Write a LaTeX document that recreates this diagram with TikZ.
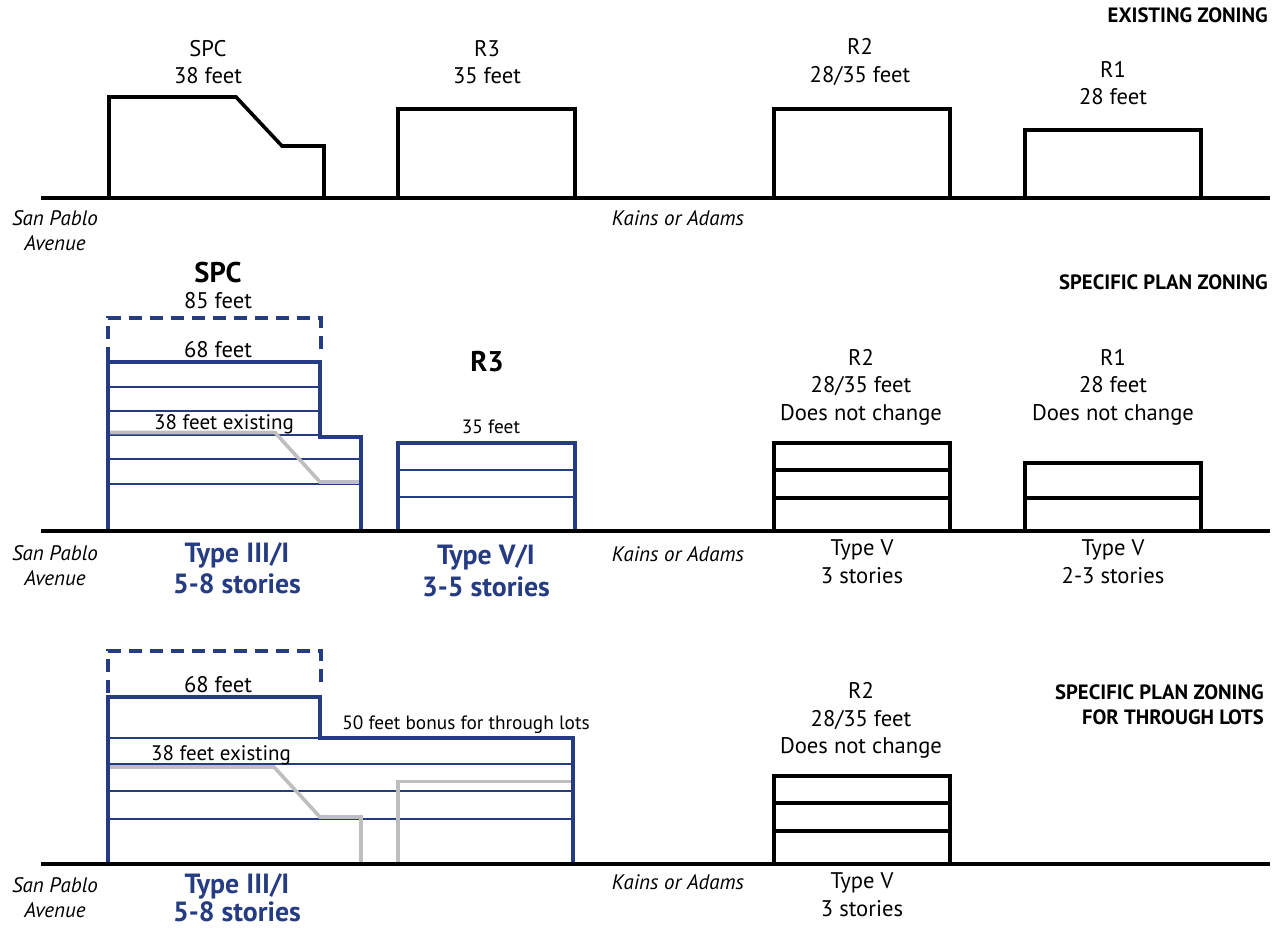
\documentclass[tikz,border=0pt]{standalone}
\usepackage{fontspec}
\setmainfont{PT Sans}
\usepackage{xcolor}
\definecolor{planblue}{RGB}{38,60,130}
\definecolor{oldgray}{RGB}{190,190,190}
\begin{document}
\begin{tikzpicture}[
        x=1pt, y=-1pt,
        ground/.style={line width=4pt, black},
        bldg/.style={line width=3.6pt, black},
        planbldg/.style={line width=4pt, planblue},
        floorline/.style={line width=1.6pt, planblue},
        oldbldg/.style={line width=3.6pt, oldgray},
        limit/.style={line width=3.6pt, planblue, dash pattern=on 13pt off 8pt},
        lbl/.style={inner sep=0pt, align=center, font=\fontsize{22.6}{27.6}\selectfont},
        lblsmall/.style={inner sep=0pt, align=center, font=\fontsize{19.3}{25}\selectfont},
        street/.style={inner sep=0pt, align=center, font=\fontsize{21}{25}\selectfont\itshape},
        zonehead/.style={inner sep=0pt, anchor=east, font=\fontsize{20.7}{25}\selectfont\bfseries},
        zonename/.style={inner sep=0pt, font=\fontsize{28.5}{30}\selectfont\bfseries},
        plantype/.style={inner sep=0pt, align=center, text=planblue, font=\fontsize{27.8}{31.5}\selectfont\bfseries}
    ]
    \useasboundingbox (0,0) rectangle (1274,929);

    % existing zoning
    \draw[ground] (41,198) -- (1270,198);
    \draw[bldg] (109,198) -- (109,97) -- (236,97) -- (282,146) -- (324,146) -- (324,198);
    \draw[bldg] (398,198) -- (398,109) -- (575,109) -- (575,198);
    \draw[bldg] (774,198) -- (774,109) -- (950,109) -- (950,198);
    \draw[bldg] (1025,198) -- (1025,130) -- (1201,130) -- (1201,198);
    \node[zonehead] (head1) at (1268,15) {EXISTING ZONING};
    \node[lbl] (spc1) at (208,62) {SPC\\38 feet};
    \node[lbl] (rthree1) at (487,62) {R3\\35 feet};
    \node[lbl] (rtwo1) at (860,62) {R2\\28/35 feet};
    \node[lbl] (rone1) at (1113,83) {R1\\28 feet};
    \node[street] (sanpablo1) at (55,231) {San Pablo\\Avenue};
    \node[street] (kains1) at (678,218) {Kains or Adams};

    % specific plan zoning
    \foreach \y in {387,411,435,459,484} \draw[floorline] (108,\y) -- (\ifnum\y<436 320\else 361\fi,\y);
    \draw[oldbldg] (108,432.5) -- (275,432.5) -- (320,482) -- (361,482);
    \draw[limit] (108,360) -- (108,318) -- (321,318) -- (321,356);
    \draw[planbldg] (108,533) -- (108,362) -- (320,362) -- (320,437) -- (361,437) -- (361,533);
    \draw[floorline] (398,470) -- (575,470);
    \draw[floorline] (398,497) -- (575,497);
    \draw[planbldg] (398,531) -- (398,443) -- (575,443) -- (575,531);
    \draw[bldg] (774,531) -- (774,443) -- (950,443) -- (950,531);
    \draw[bldg] (774,470) -- (950,470);
    \draw[bldg] (774,498) -- (950,498);
    \draw[bldg] (1025,531) -- (1025,463) -- (1201,463) -- (1201,531);
    \draw[bldg] (1025,498) -- (1201,498);
    \draw[ground] (41,531) -- (1270,531);
    \node[zonehead] (head2) at (1268,282) {SPECIFIC PLAN ZONING};
    \node[zonename] (spc2) at (218,273) {SPC};
    \node[lbl] (spcmax2) at (218,301) {85 feet};
    \node[lbl] (spcbase2) at (218,350) {68 feet};
    \node[lbl, font=\fontsize{21}{25}\selectfont] (spcold2) at (224,424) {38 feet existing};
    \node[zonename] (rthree2) at (487,362) {R3};
    \node[lblsmall] (rthreeh2) at (491,427) {35 feet};
    \node[lbl] (rtwo2) at (861,387) {R2\\28/35 feet\\Does not change};
    \node[lbl] (rone2) at (1113,387) {R1\\28 feet\\Does not change};
    \node[plantype] (spctype2) at (237,568.5) {Type III/I\\5-8 stories};
    \node[plantype] (rthreetype2) at (486,571) {Type V/I\\3-5 stories};
    \node[lbl] (rtwotype2) at (862,562) {Type V\\3 stories};
    \node[lbl] (ronetype2) at (1113,562) {Type V\\2-3 stories};
    \node[street] (sanpablo2) at (55,566) {San Pablo\\Avenue};
    \node[street] (kains2) at (678,554) {Kains or Adams};

    % through lots
    \draw[floorline] (108,738) -- (320,738);
    \foreach \y in {764,791,819} \draw[floorline] (108,\y) -- (573,\y);
    \draw[oldbldg] (108,767) -- (274,767) -- (320,817) -- (361,817) -- (361,866);
    \draw[oldbldg] (398,866) -- (398,781.5) -- (573,781.5);
    \draw[limit] (108,693) -- (108,651) -- (321,651) -- (321,689);
    \draw[planbldg] (108,866) -- (108,697) -- (320,697) -- (320,738) -- (573,738) -- (573,866);
    \draw[bldg] (774,864) -- (774,776) -- (950,776) -- (950,864);
    \draw[bldg] (774,803) -- (950,803);
    \draw[bldg] (774,831) -- (950,831);
    \draw[ground] (41,864) -- (1270,864);
    \node[zonehead, align=right] (head3) at (1264,704.5) {SPECIFIC PLAN ZONING\\FOR THROUGH LOTS};
    \node[lbl] (spcbase3) at (218,685) {68 feet};
    \node[lblsmall] (bonus3) at (466,725) {50 feet bonus for through lots};
    \node[lbl, font=\fontsize{21}{25}\selectfont] (spcold3) at (221,755) {38 feet existing};
    \node[lbl] (rtwo3) at (861,720.5) {R2\\28/35 feet\\Does not change};
    \node[plantype, font=\fontsize{27.8}{28.5}\selectfont\bfseries] (spctype3) at (237,898) {Type III/I\\5-8 stories};
    \node[lbl] (rtwotype3) at (862,895) {Type V\\3 stories};
    \node[street] (sanpablo3) at (55,898) {San Pablo\\Avenue};
    \node[street] (kains3) at (678,882) {Kains or Adams};
\end{tikzpicture}
\end{document}
